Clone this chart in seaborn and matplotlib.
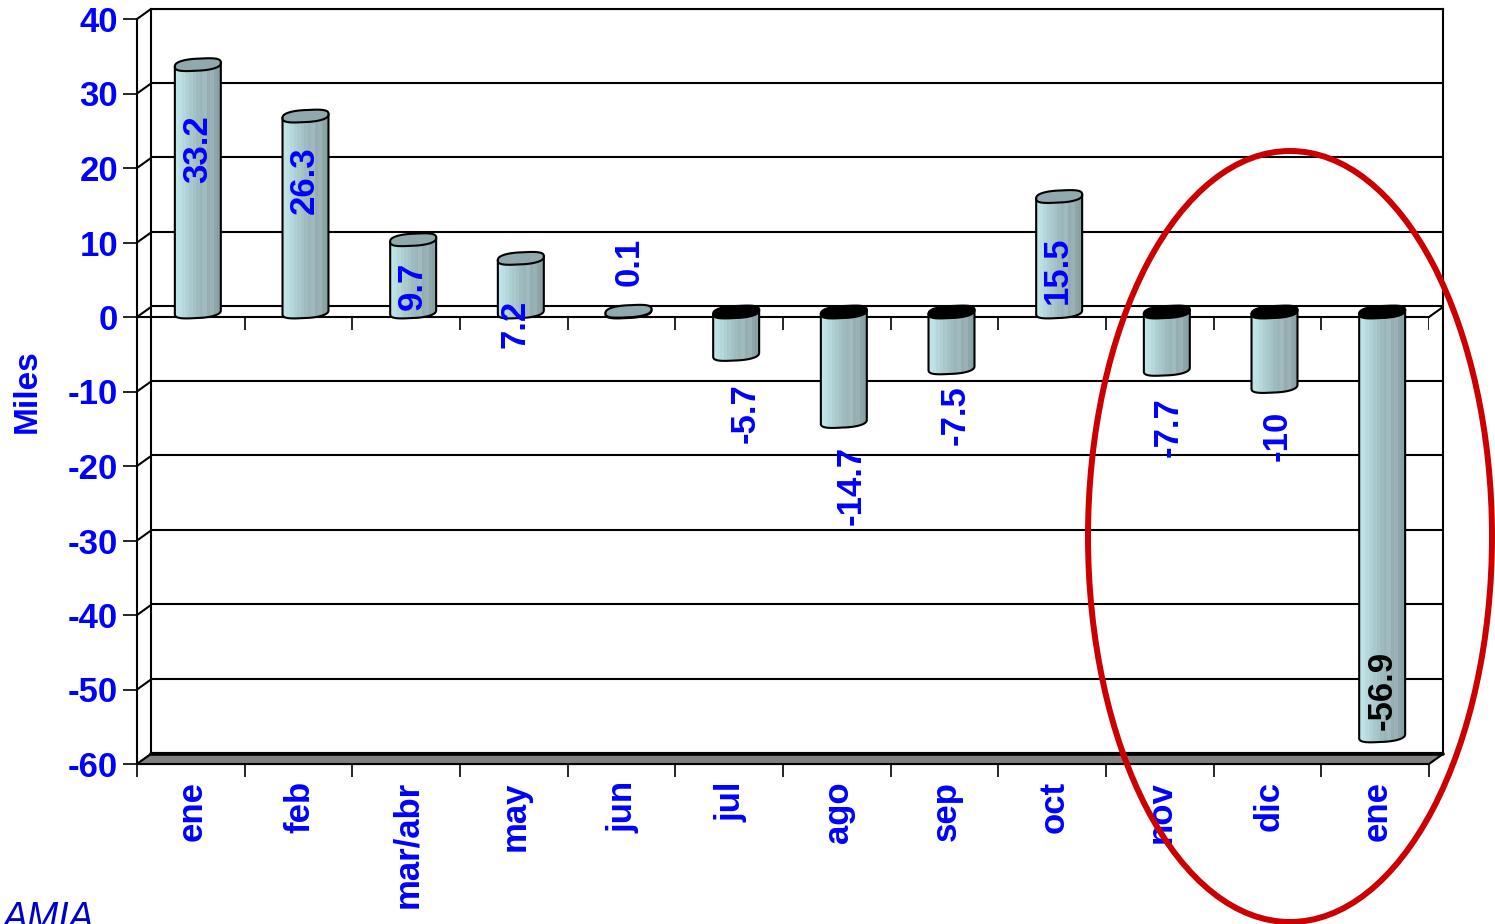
import numpy as np
import pandas as pd
import matplotlib
matplotlib.use("Agg")
import matplotlib.pyplot as plt
import seaborn as sns
from matplotlib.colors import ListedColormap
from matplotlib.patches import Ellipse, PathPatch, Polygon
from matplotlib.path import Path

months = ["ene", "feb", "mar/abr", "may", "jun", "jul", "ago", "sep", "oct", "nov", "dic", "ene"]
values = [33.2, 26.3, 9.7, 7.2, 0.1, -5.7, -14.7, -7.5, 15.5, -7.7, -10, -56.9]
labels = ["33.2", "26.3", "9.7", "7.2", "0.1", "-5.7", "-14.7", "-7.5", "15.5", "-7.7", "-10", "-56.9"]
y_ticks = list(range(-60, 41, 10))
label_dx = [0, -1, -1, -6, 1, 9, 7, 4, -2, 1, 3, 0]
label_dy = [-84, -64, -46, -66, 49, -59, -63.5, -47, -74, -58, -49, 45]

W, H = 1495, 924
BLUE = "#0000FF"
LW = 1.5

sns.set_theme(style="white")
plt.rcParams["font.family"] = ["Liberation Sans", "DejaVu Sans"]
plt.rcParams["font.weight"] = "bold"

fig = plt.figure(figsize=(W / 100, H / 100), dpi=100, facecolor="white")


def axes_px(left, top, right, bottom):
    a = fig.add_axes([left / W, 1 - bottom / H, (right - left) / W, (bottom - top) / H])
    a.set_xlim(-0.5, 11.5)
    a.set_ylim(-60, 40)
    a.patch.set_alpha(0)
    return a


# back wall, front axis frame, and the middle depth where the cylinders stand
ax_back = axes_px(151, 8.5, 1443, 753)
ax = axes_px(137, 19, 1429, 764)
ax_mid = axes_px(144, 14, 1436, 759)
ax_back.set_zorder(1)
ax.set_zorder(2)
ax_mid.set_zorder(3)

# ---- back wall
ax_back.set_xticks([])
ax_back.set_yticks(y_ticks)
ax_back.tick_params(left=False, labelleft=False)
ax_back.grid(axis="y", color="black", lw=LW)
ax_back.set_axisbelow(True)
for s in ax_back.spines.values():
    s.set_color("black")
    s.set_linewidth(LW)

# ---- front frame
for s in ("top", "right"):
    ax.spines[s].set_visible(False)
for s in ("left", "bottom"):
    ax.spines[s].set_color("black")
    ax.spines[s].set_linewidth(LW)
DX = 14 / (1292 / 12)
DY = 10 / 7.45
edges = np.arange(-0.5, 12)
ax.set_xticks(np.arange(12) + 0.015)
ax.set_xticklabels(months, rotation=90, va="top", ha="center", fontsize=25, color=BLUE, fontweight="bold")
ax.set_xticks(edges, minor=True)
ax.tick_params(axis="x", which="major", length=0, pad=12.5, bottom=False)
ax.tick_params(axis="x", which="minor", length=9.5, width=LW * 0.8, color="black", bottom=True)
ax.set_yticks(y_ticks)
ax.set_yticklabels([str(t) for t in y_ticks], fontsize=25, color=BLUE, fontweight="bold")
ax.tick_params(axis="y", length=10, width=LW * 0.8, color="black", pad=3.6, left=True)

for t in y_ticks:
    ax.plot([-0.5, -0.5 + DX], [t, t + DY], color="black", lw=LW, clip_on=False, solid_capstyle="butt")
# floor at the bottom and the zero plane
ax.add_patch(Polygon([[-0.5, -60], [-0.5 + DX, -60 + DY], [11.5 + DX, -60 + DY], [11.5, -60]],
                     closed=True, facecolor="#808080", edgecolor="black", lw=LW, clip_on=False, zorder=3))
ax.plot([-0.5 + DX, 11.5 + DX], [-60 + DY, -60 + DY], color="black", lw=2.6, clip_on=False, zorder=4)
ax.plot([-0.5, 11.5], [0, 0], color="black", lw=LW, clip_on=False)
ax.plot([11.5, 11.5 + DX], [0, DY], color="black", lw=LW, clip_on=False)
ax.vlines(edges, -13 / 7.45, 0, color="black", lw=LW * 0.8)

ax.set_ylabel("")
fig.text(27 / W, 1 - 391 / H, "Miles", rotation=90, ha="center", va="center", fontsize=24, color=BLUE, fontweight="bold")
fig.text(3 / W, -5 / H, "AMIA", ha="left", va="baseline", fontsize=27, color="#0000CC", fontstyle="italic", fontweight="normal")

# ---- cylinders
df = pd.DataFrame({"pos": range(12), "value": values})
sns.barplot(data=df, x="pos", y="value", ax=ax_mid, color="#a6c6c9", width=0.427, saturation=1, errorbar=None, linewidth=0)
ax_mid.set_xlim(-0.5, 11.5)
ax_mid.set_ylim(-60, 40)
ax_mid.axis("off")

cmap = ListedColormap(["#bfe3e6", "#bbdfe2", "#b4d8db", "#aed0d3", "#a9c9cc", "#a3c3c6", "#9ebcbf",
                       "#9ab6b9", "#a0babd", "#93adb0", "#9ab2b5", "#8ca6a9", "#88a1a4"])
HH = 6 / 7.45
SK = 2 / 7.45


def rim(cx, hw, cy, t):
    c, s = np.cos(t), np.sin(t)
    return (cx + hw * np.sign(c) * np.abs(c) ** 0.75,
            cy + HH * np.sign(s) * np.abs(s) ** 0.75 + SK * c)


for bar, v, lab, dx, dy in zip(ax_mid.patches, values, labels, label_dx, label_dy):
    x0 = bar.get_x()
    w = bar.get_width()
    cx = x0 + w / 2
    hw = w / 2
    hi, lo = max(v, 0), min(v, 0)
    low_x, low_y = rim(cx, hw, lo, np.linspace(np.pi, 2 * np.pi, 40))
    verts = [(cx - hw, hi - SK)] + list(zip(low_x, low_y)) + [(cx + hw, hi + SK)]
    body = Path(verts + [verts[0]], closed=True)
    im = ax_mid.imshow(np.arange(13).reshape(1, -1), extent=(x0, x0 + w, lo - 2, hi + 2), aspect="auto",
                       cmap=cmap, interpolation="nearest", zorder=4)
    ax_mid.add_patch(PathPatch(body, facecolor="none", edgecolor="black", lw=LW, zorder=5, clip_on=False))
    im.set_clip_path(Path(verts + [verts[0]], closed=True), transform=ax_mid.transData)
    lx, ly = rim(cx, hw, hi, np.linspace(0, 2 * np.pi, 80))
    ax_mid.add_patch(Polygon(np.c_[lx, ly], closed=True, facecolor="black" if v < 0 else "#8fa9ac",
                             edgecolor="black", lw=LW, zorder=6, clip_on=False))
    ax_mid.annotate(lab, xy=(cx, v), xytext=(dx, dy), textcoords="offset pixels", rotation=90,
                    ha="center", va="center", fontsize=25, fontweight="bold",
                    color="black" if v < -50 else BLUE, zorder=8, annotation_clip=False)
ax_mid.set_xlim(-0.5, 11.5)
ax_mid.set_ylim(-60, 40)

# ---- red highlight ellipse
fig.add_artist(Ellipse((1290 / W, 1 - 536.5 / H), 404 / W, 771 / H, transform=fig.transFigure,
                       facecolor="none", edgecolor="#CC0000", lw=4.3, zorder=20))

fig.savefig("out.png", dpi=100)
